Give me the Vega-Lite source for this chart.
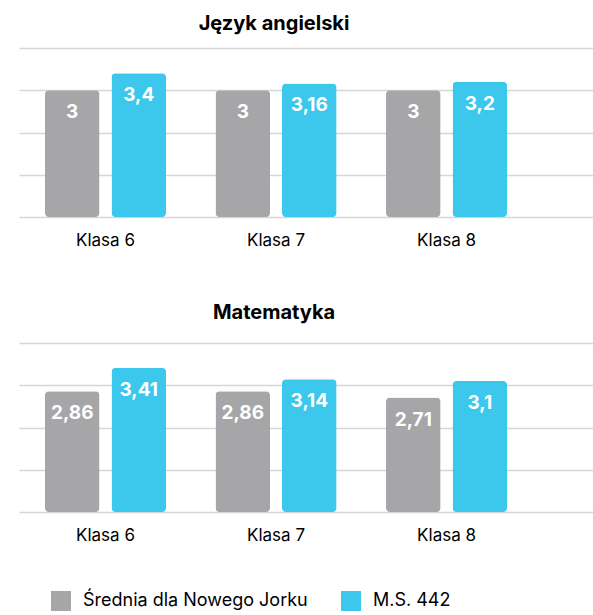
{
  "$schema": "https://vega.github.io/schema/vega-lite/v6.json",
  "padding": {"left": 19, "top": 14, "right": 0, "bottom": 0},
  "background": "white",
  "config": {
    "locale": {"number": {"decimal": ",", "thousands": " ", "grouping": [3], "currency": ["", " zł"]}},
    "font": "Inter",
    "view": {"stroke": null},
    "title": {"fontSize": 20, "fontWeight": "bold", "color": "#000000", "offset": 14},
    "concat": {"spacing": 55}
  },
  "datasets": {
    "scores": [
      {"subject": "Język angielski", "grade": "Klasa 6", "series": "Średnia dla Nowego Jorku", "value": 3},
      {"subject": "Język angielski", "grade": "Klasa 6", "series": "M.S. 442", "value": 3.4},
      {"subject": "Język angielski", "grade": "Klasa 7", "series": "Średnia dla Nowego Jorku", "value": 3},
      {"subject": "Język angielski", "grade": "Klasa 7", "series": "M.S. 442", "value": 3.16},
      {"subject": "Język angielski", "grade": "Klasa 8", "series": "Średnia dla Nowego Jorku", "value": 3},
      {"subject": "Język angielski", "grade": "Klasa 8", "series": "M.S. 442", "value": 3.2},
      {"subject": "Matematyka", "grade": "Klasa 6", "series": "Średnia dla Nowego Jorku", "value": 2.86},
      {"subject": "Matematyka", "grade": "Klasa 6", "series": "M.S. 442", "value": 3.41},
      {"subject": "Matematyka", "grade": "Klasa 7", "series": "Średnia dla Nowego Jorku", "value": 2.86},
      {"subject": "Matematyka", "grade": "Klasa 7", "series": "M.S. 442", "value": 3.14},
      {"subject": "Matematyka", "grade": "Klasa 8", "series": "Średnia dla Nowego Jorku", "value": 2.71},
      {"subject": "Matematyka", "grade": "Klasa 8", "series": "M.S. 442", "value": 3.1}
    ]
  },
  "data": {"name": "scores"},
  "vconcat": [
    {
      "title": {"text": "Język angielski", "dx": -32},
      "width": 574,
      "height": 169,
      "transform": [{"filter": "datum.subject === 'Język angielski'"}],
      "encoding": {
        "x": {"field": "grade", "type": "nominal", "sort": null, "title": null,
          "scale": {"paddingInner": 0.29, "paddingOuter": 0.328, "align": 0.232},
          "axis": {"labelAngle": 0, "domain": false, "ticks": false, "labelFontSize": 17, "labelColor": "#000000", "labelPadding": 15, "labelFontWeight": "normal"}},
        "y": {"field": "value", "type": "quantitative", "scale": {"domain": [0, 4]},
          "axis": {"title": null, "labels": false, "ticks": false, "domain": false, "tickCount": 4, "gridColor": "#d6d6d6", "gridWidth": 1.5}},
        "xOffset": {"field": "series", "type": "nominal", "sort": ["Średnia dla Nowego Jorku", "M.S. 442"], "scale": {"paddingInner": 0.18, "paddingOuter": 0}}
      },
      "layer": [
        {"mark": {"type": "bar", "cornerRadius": 4},
          "encoding": {"color": {"field": "series", "type": "nominal", "sort": ["Średnia dla Nowego Jorku", "M.S. 442"],
            "scale": {"domain": ["Średnia dla Nowego Jorku", "M.S. 442"], "range": ["#a6a6a8", "#3cc7ed"]},
            "legend": {"orient": "none", "legendX": 32, "legendY": 543, "direction": "horizontal", "title": null, "symbolType": "square", "symbolSize": 400, "symbolStrokeWidth": 0, "labelFontSize": 18, "labelColor": "#000000", "labelOffset": 12, "columnPadding": 33, "labelLimit": 400}}}},
        {"mark": {"type": "text", "baseline": "middle", "dy": 22, "fontSize": 19, "fontWeight": "bold", "color": "white"},
          "encoding": {"text": {"field": "value", "type": "quantitative", "format": "~g"}}}
      ]
    },
    {
      "title": {"text": "Matematyka", "dx": -32, "offset": 20},
      "width": 574,
      "height": 169,
      "transform": [{"filter": "datum.subject === 'Matematyka'"}],
      "encoding": {
        "x": {"field": "grade", "type": "nominal", "sort": null, "title": null,
          "scale": {"paddingInner": 0.29, "paddingOuter": 0.328, "align": 0.232},
          "axis": {"labelAngle": 0, "domain": false, "ticks": false, "labelFontSize": 17, "labelColor": "#000000", "labelPadding": 15, "labelFontWeight": "normal"}},
        "y": {"field": "value", "type": "quantitative", "scale": {"domain": [0, 4]},
          "axis": {"title": null, "labels": false, "ticks": false, "domain": false, "tickCount": 4, "gridColor": "#d6d6d6", "gridWidth": 1.5}},
        "xOffset": {"field": "series", "type": "nominal", "sort": ["Średnia dla Nowego Jorku", "M.S. 442"], "scale": {"paddingInner": 0.18, "paddingOuter": 0}}
      },
      "layer": [
        {"mark": {"type": "bar", "cornerRadius": 4},
          "encoding": {"color": {"field": "series", "type": "nominal", "sort": ["Średnia dla Nowego Jorku", "M.S. 442"],
            "scale": {"domain": ["Średnia dla Nowego Jorku", "M.S. 442"], "range": ["#a6a6a8", "#3cc7ed"]},
            "legend": {"orient": "none", "legendX": 32, "legendY": 543, "direction": "horizontal", "title": null, "symbolType": "square", "symbolSize": 400, "symbolStrokeWidth": 0, "labelFontSize": 18, "labelColor": "#000000", "labelOffset": 12, "columnPadding": 33, "labelLimit": 400}}}},
        {"mark": {"type": "text", "baseline": "middle", "dy": 22, "fontSize": 19, "fontWeight": "bold", "color": "white"},
          "encoding": {"text": {"field": "value", "type": "quantitative", "format": "~g"}}}
      ]
    }
  ]
}
